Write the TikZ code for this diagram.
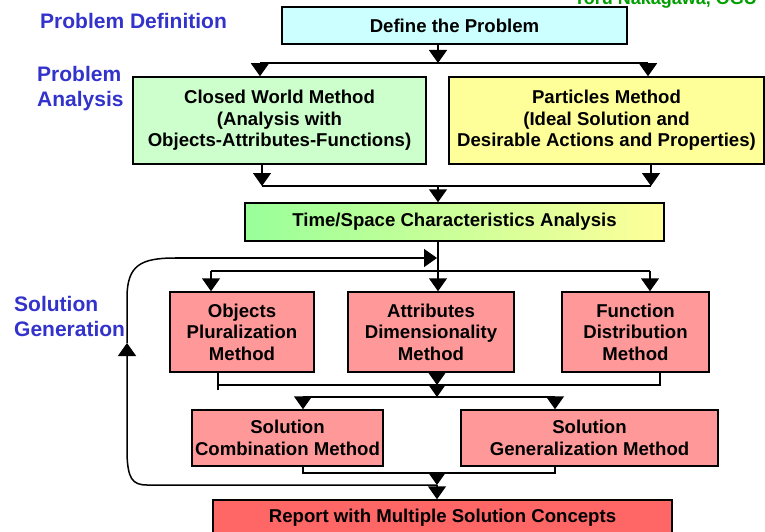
\documentclass[tikz,border=0pt]{standalone}
\usepackage{fontspec}
\setmainfont{Liberation Sans}
\usetikzlibrary{arrows.meta,calc}
\definecolor{lblue}{HTML}{3333CC}
\definecolor{authgreen}{HTML}{00A000}
\definecolor{cyanfill}{HTML}{CCFFFF}
\definecolor{greenfill}{HTML}{CCFFCC}
\definecolor{yellowfill}{HTML}{FFFF99}
\definecolor{gradgreen}{HTML}{99FF99}
\definecolor{pinkfill}{HTML}{FF9999}
\definecolor{redfill}{HTML}{FF6666}
\begin{document}
\begin{tikzpicture}[x=1pt,y=-1pt,
  box/.style={draw=black,line width=1.5pt,align=center,inner sep=0pt,
    font=\fontsize{18.6}{21.5}\selectfont\bfseries},
  lab/.style={text=lblue,align=left,inner sep=0pt,
    font=\fontsize{21}{25}\selectfont\bfseries},
  ln/.style={line width=1.5pt},
  arr/.style={line width=1.5pt,-{Triangle[width=18pt,length=13pt]}}]
\useasboundingbox (0,0) rectangle (765,532);
\fill[white] (0,0) rectangle (765,532);

% author (cut off at top, as in the reference)
\node[text=authgreen,anchor=base west,inner sep=0pt,
  font=\fontsize{18}{21}\selectfont\bfseries] (auth) at (574,5) {Toru Nakagawa, OGU};

% stage labels
\node[lab,anchor=west] (lpd) at (40,21) {Problem Definition};
\node[lab,anchor=west] (lpa) at (37,89) {Problem\\Analysis};
\node[lab,anchor=west] (lsg) at (14,316) {Solution\\Generation};

% boxes
\node[box,fill=cyanfill,minimum width=345pt,minimum height=37pt] (define) at (454.5,25.5) {Define the Problem};
\node[box,fill=greenfill,minimum width=293pt,minimum height=87pt] (closed) at (279.5,120.5)
  {Closed World Method\\(Analysis with\\Objects-Attributes-Functions)};
\node[box,fill=yellowfill,minimum width=315pt,minimum height=87pt] (particles) at (606.5,120.5)
  {Particles Method\\(Ideal Solution and\\Desirable Actions and Properties)};
\node[box,left color=gradgreen,right color=yellowfill,minimum width=419pt,minimum height=38pt] (time) at (454.5,222)
  {Time/Space Characteristics Analysis};
\node[box,fill=pinkfill,minimum width=144pt,minimum height=80pt] (objects) at (242,332)
  {Objects\\Pluralization\\Method};
\node[box,fill=pinkfill,minimum width=166pt,minimum height=80pt] (attrib) at (431,332)
  {Attributes\\Dimensionality\\Method};
\node[box,fill=pinkfill,minimum width=147pt,minimum height=80pt] (function) at (635.5,332)
  {Function\\Distribution\\Method};
\node[box,fill=pinkfill,minimum width=191pt,minimum height=56pt] (comb) at (287.5,438)
  {Solution\\Combination Method};
\node[box,fill=pinkfill,minimum width=257pt,minimum height=56pt] (gen) at (589.5,438)
  {Solution\\Generalization Method};
\node[box,fill=redfill,minimum width=459pt,minimum height=36pt] (report) at (442.5,518)
  {Report with Multiple Solution Concepts};

% junction coordinates
\coordinate (s1) at (438,63);
\coordinate (s1l) at (260,63);
\coordinate (s1r) at (648,63);
\coordinate (m1) at (438,186);
\coordinate (m1l) at (262,186);
\coordinate (m1r) at (651,186);
\coordinate (s2) at (438,271);
\coordinate (s2l) at (211,271);
\coordinate (s2r) at (650,271);
\coordinate (m2) at (437,385);
\coordinate (m2l) at (218,385);
\coordinate (m2r) at (660,385);
\coordinate (s3) at (437,397);
\coordinate (s3l) at (303,397);
\coordinate (s3r) at (555,397);
\coordinate (m3) at (437,473);
\coordinate (m3l) at (303,473);
\coordinate (m3r) at (555,473);
\coordinate (l1) at (437,485);
\coordinate (lup) at (127,343);
\coordinate (ltop) at (175,258);
\coordinate (lend) at (437,258);

% define -> two analysis methods
\draw[arr] (define.south -| s1) -- (s1);
\draw[ln] (s1l) -- (s1r);
\draw[arr] (s1l) -- (s1l |- closed.north);
\draw[arr] (s1r) -- (s1r |- particles.north);

% analysis methods -> time/space
\draw[arr] (closed.south -| m1l) -- (m1l);
\draw[arr] (particles.south -| m1r) -- (m1r);
\draw[ln] (m1l) -- (m1r);
\draw[arr] (m1) -- (m1 |- time.north);

% time/space -> three methods
\draw[arr] (time.south -| s2) -- (s2 |- attrib.north);
\draw[ln] (s2l) -- (s2r);
\draw[arr] (s2l) -- (s2l |- objects.north);
\draw[arr] (s2r) -- (s2r |- function.north);

% three methods -> merge
\draw[ln] (objects.south -| m2l) -- ($(m2l)+(0,5)$);
\draw[ln] (m2l) -- (m2r) -- (function.south -| m2r);
\draw[arr] (attrib.south -| m2) -- (m2);
\draw[arr] (m2) -- (s3);
\draw[ln] (s3l) -- (s3r);
\draw[arr] (s3l) -- (s3l |- comb.north);
\draw[arr] (s3r) -- (s3r |- gen.north);

% combination/generalization -> report
\draw[ln] (comb.south -| m3l) -- (m3l) -- (m3r) -- (gen.south -| m3r);
\draw[arr] (m3) -- (l1);
\draw[arr] (l1) -- (l1 |- report.north);

% feedback loop
\draw[arr] (l1) -- (147,485) .. controls (132,485) and (128,478) .. (127,455) -- (lup);
\draw[ln] (lup) -- (127,295) .. controls (128,266) and (140,258) .. (ltop);
\draw[arr] (ltop) -- (lend);
\end{tikzpicture}
\end{document}
